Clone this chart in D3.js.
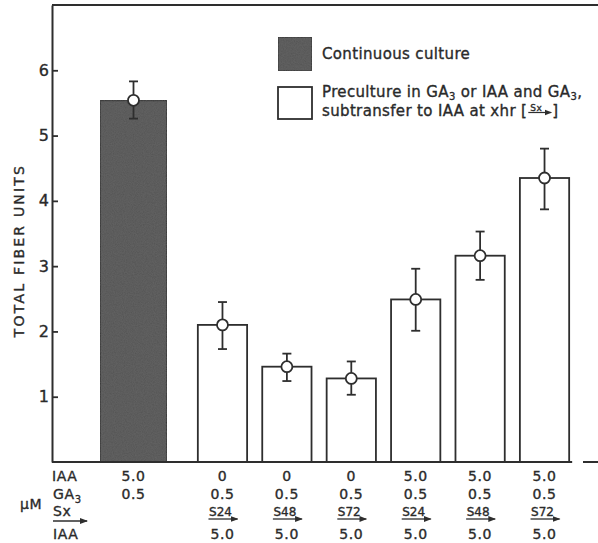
<!DOCTYPE html>
<html>
<head>
<meta charset="utf-8">
<script src="https://cdn.jsdelivr.net/npm/d3@7/dist/d3.min.js"></script>
<style>
  html, body { margin: 0; padding: 0; background: #fff; }
  svg { display: block; }
  text { font-family: "DejaVu Sans", sans-serif; fill: #2a2a2a; stroke: #2a2a2a; stroke-width: 0.35px; }
</style>
</head>
<body>
<svg id="chart" width="598" height="543"></svg>
<script>
// Fiber production after continuous culture vs. preculture + subtransfer
const culture     = ["continuous", "pre", "pre", "pre", "pre", "pre", "pre"];
const fiberUnits  = [5.54, 2.10, 1.46, 1.28, 2.49, 3.16, 4.35];
const errHigh     = [5.83, 2.45, 1.66, 1.54, 2.96, 3.53, 4.80];
const errLow      = [5.26, 1.73, 1.24, 1.03, 2.01, 2.79, 3.87];
const iaaPre      = ["5.0", "0", "0", "0", "5.0", "5.0", "5.0"];
const ga3Pre      = ["0.5", "0.5", "0.5", "0.5", "0.5", "0.5", "0.5"];
const transferAt  = ["", "S24", "S48", "S72", "S24", "S48", "S72"];
const iaaAfter    = ["", "5.0", "5.0", "5.0", "5.0", "5.0", "5.0"];
const yTicks      = [1, 2, 3, 4, 5, 6];
const yMax        = 7;

const svg = d3.select("#chart");
const ink = "#2e2e2e";
const darkFill = "#555";

const plotLeft = 52, plotRight = 598, plotTop = 5, plotBottom = 462;

const y = d3.scaleLinear().domain([0, yMax]).range([plotBottom, plotTop]);

// continuous culture bar sits on its own, wider band
const xCont = d3.scaleBand().domain([0]).range([100, 167]);
const subIdx = d3.range(1, culture.length);
const xSub = d3.scaleBand().domain(subIdx)
  .range([190.3, 576.7]).paddingInner(0.235).paddingOuter(0.117);

const bandX = i => culture[i] === "continuous" ? xCont(0) : xSub(i);
const bandW = i => culture[i] === "continuous" ? xCont.bandwidth() : xSub.bandwidth();
const cx = i => bandX(i) + bandW(i) / 2;

// grain for dark fill
const defs = svg.append("defs");
const f = defs.append("filter").attr("id", "grain").attr("x", 0).attr("y", 0).attr("width", 1).attr("height", 1);
f.append("feTurbulence").attr("type", "fractalNoise").attr("baseFrequency", 0.9).attr("numOctaves", 2).attr("seed", 3).attr("result", "n");
f.append("feColorMatrix").attr("in", "n").attr("type", "matrix")
  .attr("values", "0 0 0 0 0.2  0 0 0 0 0.2  0 0 0 0 0.2  0 0 0 0.35 0").attr("result", "g");
f.append("feComposite").attr("in", "g").attr("in2", "SourceGraphic").attr("operator", "in").attr("result", "gc");
f.append("feMerge").call(m => { m.append("feMergeNode").attr("in", "SourceGraphic"); m.append("feMergeNode").attr("in", "gc"); });

// frame: top rule
svg.append("line").attr("x1", plotLeft).attr("x2", plotRight).attr("y1", plotTop).attr("y2", plotTop)
  .attr("stroke", ink).attr("stroke-width", 2);

// bars
const idx = d3.range(culture.length);
svg.append("g").selectAll("rect").data(idx).join("rect")
  .attr("x", i => bandX(i))
  .attr("y", i => y(fiberUnits[i]))
  .attr("width", i => bandW(i))
  .attr("height", i => y(0) - y(fiberUnits[i]))
  .attr("fill", i => culture[i] === "continuous" ? darkFill : "#fff")
  .attr("stroke", ink).attr("stroke-width", 1.8)
  .attr("filter", i => culture[i] === "continuous" ? "url(#grain)" : null);

// error bars
const eb = svg.append("g").attr("stroke", ink).attr("stroke-width", 1.8);
eb.selectAll("line.v").data(idx).join("line").attr("class", "v")
  .attr("x1", cx).attr("x2", cx)
  .attr("y1", i => y(errHigh[i])).attr("y2", i => y(errLow[i]));
eb.selectAll("line.h").data(idx).join("line").attr("class", "h")
  .attr("x1", i => cx(i) - 4.5).attr("x2", i => cx(i) + 4.5)
  .attr("y1", i => y(errHigh[i])).attr("y2", i => y(errHigh[i]));
eb.selectAll("line.l").data(idx).join("line").attr("class", "l")
  .attr("x1", i => cx(i) - 4.5).attr("x2", i => cx(i) + 4.5)
  .attr("y1", i => y(errLow[i])).attr("y2", i => y(errLow[i]));
svg.append("g").selectAll("circle").data(idx).join("circle")
  .attr("cx", cx).attr("cy", i => y(fiberUnits[i])).attr("r", 5.5)
  .attr("fill", "#fff").attr("stroke", ink).attr("stroke-width", 1.8);

// y axis
const yAxis = d3.axisLeft(y).tickValues(yTicks).tickFormat(d3.format("d"))
  .tickSizeInner(-6).tickSizeOuter(0).tickPadding(3);
const gy = svg.append("g").attr("transform", `translate(${plotLeft},0)`).call(yAxis);
gy.select(".domain").attr("stroke", ink).attr("stroke-width", 2);
gy.selectAll(".tick line").attr("stroke", ink).attr("stroke-width", 1.8);
gy.selectAll(".tick text").attr("font-size", 16).attr("font-family", "DejaVu Sans").attr("fill", ink);

// baseline
svg.append("line").attr("x1", plotLeft).attr("x2", xSub(6) + xSub.bandwidth() + 3)
  .attr("y1", plotBottom).attr("y2", plotBottom).attr("stroke", ink).attr("stroke-width", 2);
svg.append("line").attr("x1", 583).attr("x2", plotRight)
  .attr("y1", plotBottom).attr("y2", plotBottom).attr("stroke", ink).attr("stroke-width", 2);

// y title
svg.append("text")
  .attr("transform", `translate(24,${(plotTop + plotBottom) / 2 + 17}) rotate(-90)`)
  .attr("text-anchor", "middle").attr("font-size", 14).attr("letter-spacing", 2.2)
  .text("TOTAL FIBER UNITS");

// arrow marker
defs.append("marker").attr("id", "arr").attr("viewBox", "0 0 8 8").attr("refX", 7).attr("refY", 4)
  .attr("markerWidth", 6).attr("markerHeight", 6).attr("orient", "auto")
  .append("path").attr("d", "M0,1 L8,4 L0,7 Z").attr("fill", ink);

// treatment table under the bars
const rowY = [481, 499, 516, 539];
const fs = 14;
const tbl = svg.append("g").attr("font-size", fs).attr("letter-spacing", 0.6);

tbl.append("text").attr("x", 52).attr("y", rowY[0]).text("IAA");
const ga = tbl.append("text").attr("x", 53).attr("y", rowY[1]).text("GA");
ga.append("tspan").attr("font-size", 10).attr("dy", 4).text("3");
tbl.append("text").attr("x", 20).attr("y", 509).text("μM");
tbl.append("text").attr("x", 53).attr("y", rowY[2]).text("Sx");
svg.append("line").attr("x1", 53).attr("x2", 87).attr("y1", 521).attr("y2", 521)
  .attr("stroke", ink).attr("stroke-width", 1.4).attr("marker-end", "url(#arr)");
tbl.append("text").attr("x", 53).attr("y", rowY[3]).text("IAA");

tbl.selectAll("text.r0").data(idx).join("text").attr("class", "r0")
  .attr("x", cx).attr("y", rowY[0]).attr("text-anchor", "middle").text(i => iaaPre[i]);
tbl.selectAll("text.r1").data(idx).join("text").attr("class", "r1")
  .attr("x", cx).attr("y", rowY[1]).attr("text-anchor", "middle").text(i => ga3Pre[i]);
const sub = idx.filter(i => transferAt[i] !== "");
tbl.selectAll("text.r2").data(sub).join("text").attr("class", "r2")
  .attr("x", i => cx(i) - 2).attr("y", rowY[2]).attr("text-anchor", "middle")
  .attr("font-size", 12).attr("letter-spacing", 0).text(i => transferAt[i]);
svg.append("g").selectAll("line").data(sub).join("line")
  .attr("x1", i => cx(i) - 14).attr("x2", i => cx(i) + 15)
  .attr("y1", 519).attr("y2", 519)
  .attr("stroke", ink).attr("stroke-width", 1.3).attr("marker-end", "url(#arr)");
tbl.selectAll("text.r3").data(sub).join("text").attr("class", "r3")
  .attr("x", cx).attr("y", rowY[3]).attr("text-anchor", "middle").text(i => iaaAfter[i]);

// legend
const lg = svg.append("g").attr("font-size", 15).attr("letter-spacing", 0.35);
lg.append("rect").attr("x", 278).attr("y", 37).attr("width", 34).attr("height", 34)
  .attr("fill", darkFill).attr("stroke", ink).attr("stroke-width", 1.5).attr("filter", "url(#grain)");
lg.append("rect").attr("x", 278).attr("y", 87).attr("width", 34).attr("height", 32)
  .attr("fill", "#fff").attr("stroke", ink).attr("stroke-width", 1.8);
lg.append("text").attr("x", 322).attr("y", 59).text("Continuous culture");
const l2 = lg.append("text").attr("x", 322).attr("y", 96.5);
l2.append("tspan").text("Preculture in GA");
l2.append("tspan").attr("font-size", 10).attr("dy", 3).text("3");
l2.append("tspan").attr("dy", -3).text(" or IAA and GA");
l2.append("tspan").attr("font-size", 10).attr("dy", 3).text("3");
l2.append("tspan").attr("dy", -3).text(",");
const l3 = lg.append("text").attr("x", 322).attr("y", 116).text("subtransfer to IAA at xhr [");
const l3w = l3.node().getComputedTextLength();
lg.append("text").attr("x", 322 + l3w + 3).attr("y", 110.5).attr("font-size", 9).attr("letter-spacing", 0.5).text("Sx");
lg.append("line").attr("x1", 322 + l3w + 1).attr("x2", 322 + l3w + 24)
  .attr("y1", 112.5).attr("y2", 112.5).attr("stroke", ink).attr("stroke-width", 1.2).attr("marker-end", "url(#arr)");
lg.append("text").attr("x", 322 + l3w + 25).attr("y", 116).text("]");
</script>
</body>
</html>
